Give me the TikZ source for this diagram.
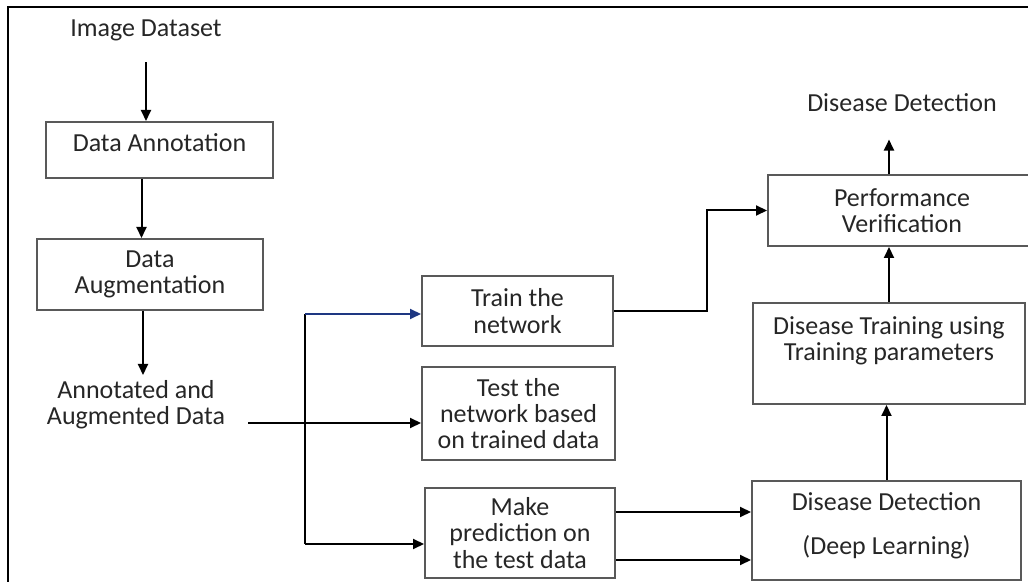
\documentclass[tikz,border=0pt]{standalone}
\usepackage{fontspec}
\setmainfont{Carlito}
\usetikzlibrary{arrows.meta}
\definecolor{navy}{RGB}{30,55,130}
\begin{document}
\begin{tikzpicture}[x=0.5pt, y=-0.5pt, thick,
        main/.style = {draw=black!65, line width=1pt, align=center, text=black!85},
        txt/.style = {draw=none, align=center, text=black!85},
        arr/.style = {line width=1pt, -{Triangle[length=5.5pt, width=5pt]}}]
            \useasboundingbox (0,0) rectangle (1028,582);
            \fontsize{13pt}{13.2pt}\selectfont
            \draw[line width=1pt] (8,582) -- (8,7) -- (1028,7);

            \node[txt] (img) at (146,30)    {Image Dataset};
            \node[main, minimum width=113.5pt, minimum height=28pt] (anno) at (159.5,150)
                {Data Annotation\rule[-7pt]{0pt}{0pt}};
            \node[main, minimum width=113pt, minimum height=35.5pt] (aug) at (150,274.5)
                {Data\\Augmentation};
            \node[txt] (annot) at (136,405) {Annotated and\\Augmented Data};

            \node[main, minimum width=95.5pt, minimum height=35pt] (train) at (517.5,311)
                {Train the\\network};
            \node[main, minimum width=96.5pt, minimum height=46.5pt] (test) at (518.5,413.5)
                {Test the\\network based\\on trained data};
            \node[main, minimum width=95pt, minimum height=45pt] (make) at (520,533)
                {Make\\prediction on\\the test data};

            \node[main, minimum width=134.5pt, minimum height=49.5pt] (dl) at (886.5,530.5)
                {Disease Detection\\[8.5pt](Deep Learning)\rule[-7pt]{0pt}{0pt}};
            \node[main, minimum width=136pt, minimum height=50.5pt] (dtrain) at (889,353.5)
                {Disease Training using\\Training parameters\rule[-15pt]{0pt}{0pt}};
            \node[main, minimum width=134pt, minimum height=35.5pt] (perf) at (902,210.5)
                {Performance\\Verification};
            \node[txt] (detect) at (902,103) {Disease Detection};

            \coordinate (in) at (248,423);
            \coordinate (up) at (305,314);
            \coordinate (down) at (305,544);

            \draw[arr] ([yshift=-6pt]img.south) -- (anno.north -| img.south);
            \draw[arr] ([xshift=-9pt]anno.south) -- ([xshift=-9pt]anno.south |- aug.north);
            \draw[arr] ([xshift=-3.5pt]aug.south) -- ++(0,64);

            \draw[arr] (in) -- (test.west |- in);
            \draw[line width=1pt] (up) -- (down);
            \draw[arr, navy] (up) -- (train.west |- up);
            \draw[arr] (down) -- (make.west |- down);

            \draw[arr] (train.east) -- ++(93,0) |- (perf.west);
            \draw[arr] ([yshift=10.5pt]make.east) -- ([yshift=10.5pt]make.east -| dl.west);
            \draw[arr] ([yshift=-13.5pt]make.east) -- ([yshift=-13.5pt]make.east -| dl.west);
            \draw[arr] (dl.north) -- (dl.north |- dtrain.south);
            \draw[arr] (dtrain.north) -- (dtrain.north |- perf.south);
            \draw[arr] (dtrain.north |- perf.north) -- ([yshift=-9pt]dtrain.north |- detect.south);
        \end{tikzpicture}
\end{document}
